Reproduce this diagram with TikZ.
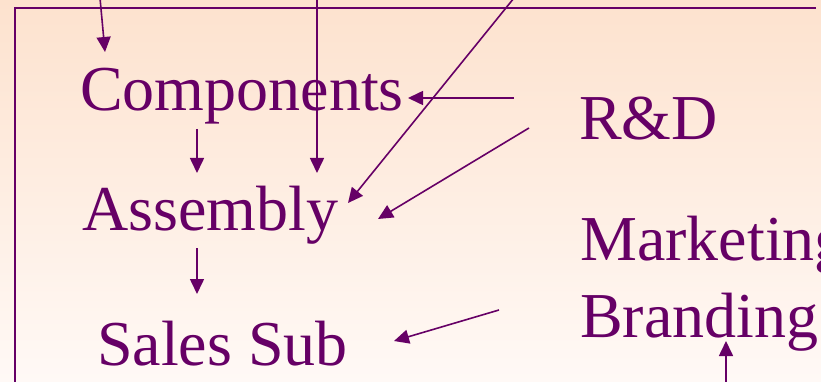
\documentclass[tikz,border=0pt]{standalone}
\usepackage{fontspec}
\setmainfont{Liberation Serif}
\usetikzlibrary{arrows.meta}
\definecolor{plum}{HTML}{660066}
\definecolor{bgtop}{HTML}{FDE2CE}
\definecolor{bgbot}{HTML}{FFF9F6}
\tikzset{
  lbl/.style={anchor=base west, inner sep=0pt, text=plum, font=\fontsize{64}{70}\selectfont},
  conn/.style={draw=plum, line width=1.6pt, -{Triangle[length=15pt,width=14pt]}},
  frame/.style={draw=plum, line width=1.8pt}
}
\begin{document}
\begin{tikzpicture}[x=1pt,y=-1pt]
\useasboundingbox (0,0) rectangle (821,382);
\clip (0,0) rectangle (821,382);
\shade[top color=bgtop, bottom color=bgbot] (0,0) rectangle (821,382);
\draw[frame] (816,8) -- (15,8) -- (15,390);
% text nodes
\node[lbl] (comp) at (80,111) {Components};
\node[lbl] (asm) at (82,230) {Assembly};
\node[lbl] (sales) at (97,365) {Sales Sub};
\node[lbl] (rd) at (579,140) {R\&D};
\node[lbl] (mkt) at (580,260) {Marketing};
\node[lbl] (brand) at (580,337) {Branding};
% free ends
\coordinate (s1) at (100,-2);
\coordinate (t1) at (105,52);
\coordinate (s2) at (317,-2);
\coordinate (t2) at (317,173);
\coordinate (s3) at (514,-2);
\coordinate (t3) at (348,203);
\coordinate (s4) at (514,98);
\coordinate (t4) at (408,98);
\coordinate (s5) at (529,128);
\coordinate (t5) at (378,219);
\coordinate (s6) at (197,129);
\coordinate (t6) at (197,173);
\coordinate (s7) at (197,248);
\coordinate (t7) at (197,294);
\coordinate (s8) at (499,310);
\coordinate (t8) at (394,341);
\coordinate (s9) at (726,390);
\coordinate (t9) at (726,341);
% connectors
\draw[conn] (s1) -- (t1);
\draw[conn] (s2) -- (t2);
\draw[conn] (s3) -- (t3);
\draw[conn] (s4) -- (t4);
\draw[conn] (s5) -- (t5);
\draw[conn] (s6) -- (t6);
\draw[conn] (s7) -- (t7);
\draw[conn] (s8) -- (t8);
\draw[conn] (s9) -- (t9);
\end{tikzpicture}
\end{document}
